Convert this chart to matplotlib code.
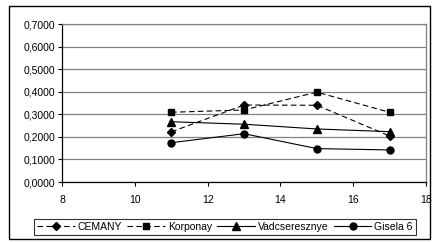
import matplotlib
matplotlib.use("Agg")
import matplotlib.pyplot as plt
from matplotlib.patches import Rectangle
from matplotlib.ticker import FuncFormatter

plt.rcParams['font.family'] = ['Liberation Sans', 'DejaVu Sans']

# data
x = [11, 13, 15, 17]
cemany = [0.222, 0.341, 0.340, 0.204]
korponay = [0.309, 0.319, 0.398, 0.309]
vadcseresznye = [0.267, 0.256, 0.235, 0.223]
gisela6 = [0.174, 0.214, 0.148, 0.142]

fig = plt.figure(figsize=(4.35, 2.43), dpi=100)
ax = fig.add_axes([62 / 435, 1 - 182 / 243, (426 - 62) / 435, (182 - 24) / 243])

ms = 5
ax.plot(x, cemany, color="black", lw=0.8, ls=(0, (5, 3)), marker="D", ms=ms - 1, label="CEMANY")
ax.plot(x, korponay, color="black", lw=0.8, ls=(0, (5, 3)), marker="s", ms=ms, label="Korponay")
ax.plot(x, vadcseresznye, color="black", lw=0.8, marker="^", ms=ms + 0.5, label="Vadcseresznye")
ax.plot(x, gisela6, color="black", lw=0.8, marker="o", ms=ms, label="Gisela 6")

ax.set_xlim(8, 18)
ax.set_ylim(0, 0.7)
ax.set_xticks([8, 10, 12, 14, 16, 18])
ax.set_yticks([0, 0.1, 0.2, 0.3, 0.4, 0.5, 0.6, 0.7])
ax.yaxis.set_major_formatter(FuncFormatter(lambda v, p: f"{v:.4f}".replace(".", ",")))
ax.grid(axis="y", color="#808080", lw=0.9)
ax.set_axisbelow(True)
ax.tick_params(labelsize=7.5, length=3, width=0.8, direction="out", pad=2)
ax.tick_params(axis="x", pad=6)
for s in ["top", "right"]:
    ax.spines[s].set_color("#808080")
for s in ["left", "bottom"]:
    ax.spines[s].set_color("black")
for s in ax.spines.values():
    s.set_linewidth(0.9)

leg = fig.legend(loc="center", bbox_to_anchor=(225 / 435, 1 - 227 / 243), ncol=4,
                 fontsize=7.5, frameon=True, fancybox=False, edgecolor="black",
                 handlelength=3.6, columnspacing=0.5, handletextpad=0.3,
                 borderpad=0.3, borderaxespad=0)
leg.get_frame().set_linewidth(0.8)

fig.patches.append(Rectangle((9 / 435, 1 - 239 / 243), (430 - 9) / 435, (239 - 6) / 243,
                             transform=fig.transFigure, fill=False, edgecolor="black", lw=1.0))

fig.savefig("out.png", dpi=100)
